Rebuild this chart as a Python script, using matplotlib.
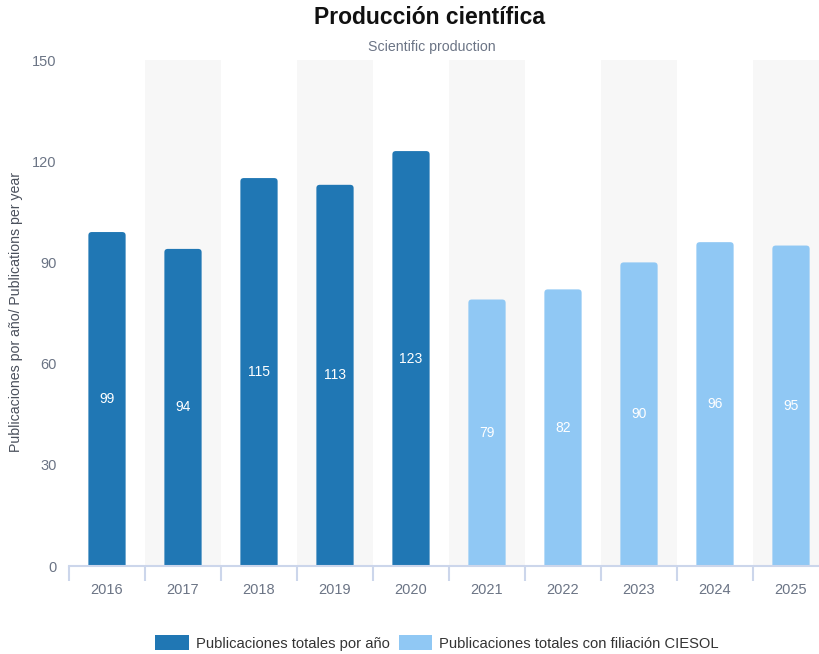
import matplotlib.pyplot as plt
from matplotlib.patches import Patch, FancyBboxPatch

plt.rcParams['font.family'] = ['Liberation Sans', 'DejaVu Sans']

years = ['2016', '2017', '2018', '2019', '2020', '2021', '2022', '2023', '2024', '2025']
values = [99, 94, 115, 113, 123, 79, 82, 90, 96, 95]
series = [0, 0, 0, 0, 0, 1, 1, 1, 1, 1]  # 0 = totales, 1 = con filiacion CIESOL
series_names = ['Publicaciones totales por año', 'Publicaciones totales con filiación CIESOL']
series_colors = ['#2077b4', '#90c8f4']

TICK_GREY = '#6b7485'
AXIS_LINE = '#ccd6eb'

fig = plt.figure(figsize=(8.19, 6.54), dpi=100)
ax = fig.add_axes([69 / 819, 88 / 654, 760 / 819, 506 / 654])

n = len(years)
x = list(range(n))

# alternating background bands
for i in x:
    if i % 2 == 1:
        ax.axvspan(i - 0.5, i + 0.5, color='#f7f7f7', zorder=0, lw=0)

# bars with slightly rounded top corners
bw = 0.49
r = 0.045
for xi, v, s in zip(x, values, series):
    p = FancyBboxPatch((xi - bw / 2, -3), bw, v + 3,
                       boxstyle=f'round,pad=0,rounding_size={r}',
                       mutation_aspect=22, facecolor=series_colors[s],
                       edgecolor='none', zorder=2)
    ax.add_patch(p)
    ax.text(xi, v / 2, str(v), ha='center', va='center', color='white',
            fontsize=10, zorder=3)

ax.set_xlim(-0.5, n - 0.5)
ax.set_ylim(0, 150)
ax.set_yticks([0, 30, 60, 90, 120, 150])
ax.set_xticks(x)
ax.set_xticklabels(years)
ax.set_xticks([i - 0.5 for i in range(n + 1)], minor=True)

for s in ['top', 'right', 'left']:
    ax.spines[s].set_visible(False)
ax.spines['bottom'].set_color(AXIS_LINE)
ax.spines['bottom'].set_linewidth(1.5)
ax.spines['bottom'].set_zorder(4)

ax.tick_params(axis='x', which='major', length=0, pad=12, labelsize=10.5, labelcolor=TICK_GREY)
ax.tick_params(axis='x', which='minor', length=11, width=1.5, color=AXIS_LINE, direction='out')
ax.tick_params(axis='y', length=0, pad=9, labelsize=10.5, labelcolor=TICK_GREY)

fig.text(16 / 819, 1 - 312 / 654, 'Publicaciones por año/ Publications per year',
         rotation=90, ha='center', va='center', fontsize=10.2, color='#4a505c')

fig.text(430 / 819, 1 - 18 / 654, 'Producción científica', ha='center', va='center',
         fontsize=16.5, fontweight='bold', color='#111111')
fig.text(432 / 819, 1 - 47 / 654, 'Scientific production', ha='center', va='center',
         fontsize=10.2, color=TICK_GREY)

handles = [Patch(facecolor=c, edgecolor='none') for c in series_colors]
fig.legend(handles, series_names, loc='center', bbox_to_anchor=(437 / 819, 1 - 643 / 654),
           ncol=2, frameon=False, fontsize=10.6, labelcolor='#333333',
           handlelength=2.3, handleheight=1.2, handletextpad=0.45, columnspacing=0.6)

fig.savefig('out.png', dpi=100)
